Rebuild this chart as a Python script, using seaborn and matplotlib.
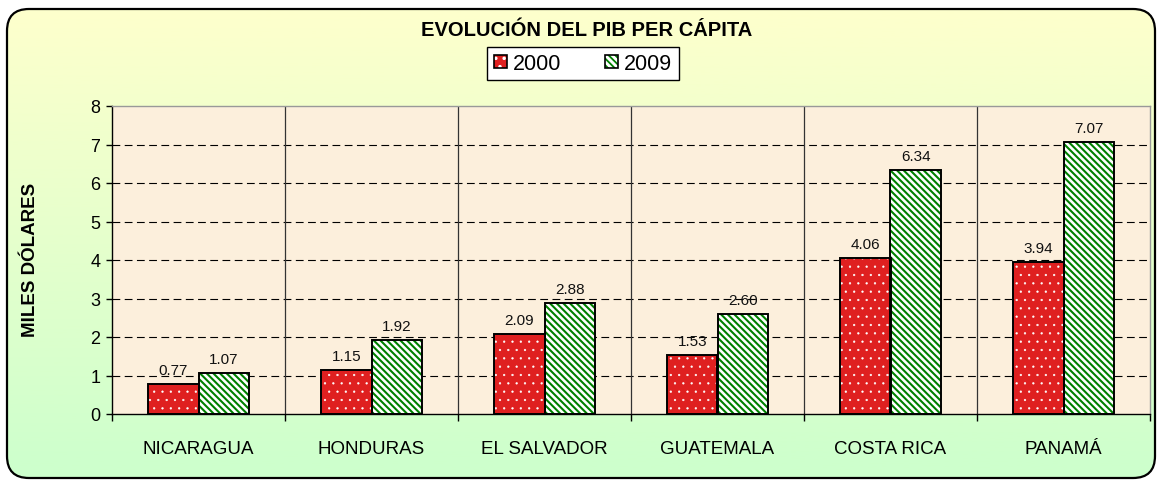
import numpy as np
import pandas as pd
import matplotlib
matplotlib.use('Agg')
import matplotlib.pyplot as plt
import seaborn as sns
from matplotlib.patches import FancyBboxPatch, Rectangle, Patch
from matplotlib.legend_handler import HandlerTuple
from matplotlib.colors import LinearSegmentedColormap

# ---- data ----
paises = ['NICARAGUA', 'HONDURAS', 'EL SALVADOR', 'GUATEMALA', 'COSTA RICA', 'PANAMÁ']
pib_2000 = [0.77, 1.15, 2.09, 1.53, 4.06, 3.94]
pib_2009 = [1.07, 1.92, 2.88, 2.60, 6.34, 7.07]
anios = ['2000', '2009']
yticks = list(range(0, 9))

df = pd.DataFrame({
    'pais': paises * 2,
    'anio': [anios[0]] * len(paises) + [anios[1]] * len(paises),
    'valor': pib_2000 + pib_2009,
})

sns.set_style('white')
plt.rcParams['font.family'] = ['Liberation Sans', 'DejaVu Sans']
plt.rcParams['text.color'] = 'black'
plt.rcParams['axes.labelcolor'] = 'black'
plt.rcParams['xtick.color'] = 'black'
plt.rcParams['ytick.color'] = 'black'
plt.rcParams['hatch.linewidth'] = 1.3

W, H = 1158, 481
fig = plt.figure(figsize=(W / 100, H / 100), dpi=100)

# background: rounded box with yellow -> green gradient
bg = fig.add_axes([0, 0, 1, 1], zorder=0)
bg.set_xlim(0, W)
bg.set_ylim(0, H)
bg.axis('off')
cmap = LinearSegmentedColormap.from_list('bg', ['#CCFFCC', '#FFFFCC'])
grad = np.linspace(0, 1, 256).reshape(-1, 1)
im = bg.imshow(grad, extent=[0, W, 0, H], origin='lower', cmap=cmap, aspect='auto')
box = FancyBboxPatch((7, 2), 1148, 469, boxstyle='round,pad=0,rounding_size=22',
                     fc='none', ec='black', lw=1.6, transform=bg.transData)
bg.add_patch(box)
im.set_clip_path(box)

# plot area
x0, x1, ytop, ybot = 112, 1150, 107, 415
ax = fig.add_axes([x0 / W, (H - ybot) / H, (x1 - x0) / W, (ybot - ytop) / H], zorder=1)
ax.set_facecolor('#FCEFDC')

sns.barplot(data=df, x='pais', y='valor', hue='anio', ax=ax, width=0.58,
            palette=['#FF0000', '#FFFFFF'], legend=False, zorder=3)

c2000, c2009 = ax.containers[0], ax.containers[1]
for p in c2000:
    p.set_hatch('..')
    p.set_edgecolor('white')
    p.set_linewidth(0)
    if hasattr(p, 'set_hatch_linewidth'):
        p.set_hatch_linewidth(0.4)
for p in c2009:
    p.set_hatch('\\' * 5)
    p.set_edgecolor('#008000')
    p.set_linewidth(0)
    if hasattr(p, 'set_hatch_linewidth'):
        p.set_hatch_linewidth(1.5)
for cont in (c2000, c2009):
    for p in cont:
        ax.add_patch(Rectangle(p.get_xy(), p.get_width(), p.get_height(), fill=False,
                               ec='black', lw=1.4, zorder=4))
    ax.bar_label(cont, fmt='%.2f', padding=5, fontsize=11, color='#111111')

ax.set_xlim(-0.5, len(paises) - 0.5)
ax.set_ylim(0, 8)
ax.set_yticks(yticks)
ax.tick_params(axis='y', labelsize=13, length=4.3, width=1, left=True, pad=4)
ax.set_xticks(range(len(paises)))
ax.set_xticklabels(paises, fontsize=13.5)
ax.tick_params(axis='x', length=0, pad=19)
ax.set_xticks(np.arange(-0.5, len(paises)), minor=True)
ax.tick_params(axis='x', which='minor', length=5, width=1, bottom=True)

for yv in yticks[1:-1]:
    ax.axhline(yv, color='black', lw=0.8, ls=(0, (7, 4)), zorder=1)
for xv in np.arange(0.5, len(paises) - 0.5):
    ax.axvline(xv, color='#333333', lw=0.9, zorder=1)

ax.set_xlabel('')
ax.set_ylabel('MILES DÓLARES', fontsize=13.5, fontweight='bold')
ax.yaxis.set_label_coords(-0.07, 0.505)
for s in ['left', 'bottom']:
    ax.spines[s].set_color('black')
    ax.spines[s].set_linewidth(1.0)
for s in ['top', 'right']:
    ax.spines[s].set_color('#999999')
    ax.spines[s].set_linewidth(1.0)

fig.text(587 / W, 1 - 30 / H, 'EVOLUCIÓN DEL PIB PER CÁPITA', ha='center', va='center',
         fontsize=14.5, fontweight='bold')

outline = Patch(fill=False, ec='black', lw=1.2)
leg = fig.legend([(c2000[0], outline), (c2009[0], outline)], anios, loc='center',
                 handler_map={tuple: HandlerTuple(ndivide=1, pad=0)},
                 bbox_to_anchor=(583 / W, 1 - 64.5 / H), ncol=2, fontsize=15.5,
                 frameon=True, fancybox=False, edgecolor='black', framealpha=1,
                 handlelength=0.6, handleheight=0.6, handletextpad=0.3,
                 columnspacing=2.0, borderpad=0.3)
leg.get_frame().set_linewidth(1.0)

fig.savefig('out.png', dpi=100)
